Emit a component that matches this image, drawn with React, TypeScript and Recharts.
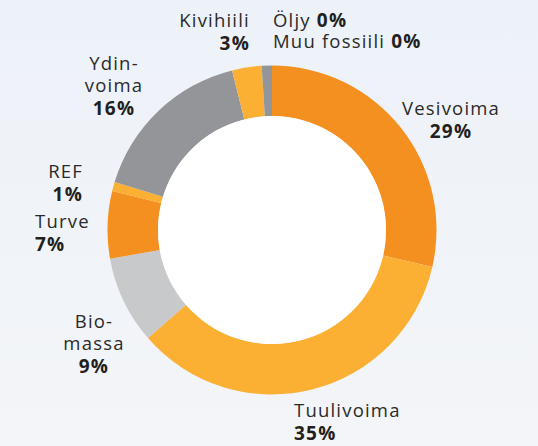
import { PieChart, Pie, Cell } from 'recharts';

const CATEGORIES = ['Vesivoima', 'Tuulivoima', 'Biomassa', 'Turve', 'REF', 'Ydinvoima', 'Kivihiili', 'Öljy', 'Muu fossiili'];
// slice sizes
const SHARES = [28.6, 35.0, 8.6, 6.6, 0.9, 16.4, 2.9, 0, 1.0];
const PERCENTS = ['29%', '35%', '9%', '7%', '1%', '16%', '3%', '0%', '0%'];
const NAME_LINES = [['Vesivoima'], ['Tuulivoima'], ['Bio-', 'massa'], ['Turve'], ['REF'], ['Ydin-', 'voima'], ['Kivihiili'], ['Öljy'], ['Muu fossiili']];

const DARK_ORANGE = '#f39020';
const LIGHT_ORANGE = '#fbb034';
const GRAY = '#939598';
const LIGHT_GRAY = '#c8c9cb';
const COLORS = [DARK_ORANGE, LIGHT_ORANGE, LIGHT_GRAY, DARK_ORANGE, LIGHT_ORANGE, GRAY, LIGHT_ORANGE, GRAY, GRAY];

const W = 538;
const H = 446;
const FONT = '"Open Sans", sans-serif';
const NAME_COLOR = '#2a2a2a';
const PCT_COLOR = '#231f20';

// where each label block sits: x, first baseline, anchor; inline = name and percent on one line
const LABEL_LAYOUT: { x: number; y: number; anchor: 'start' | 'middle' | 'end'; inline?: boolean }[] = [
  { x: 451, y: 115, anchor: 'middle' },
  { x: 294, y: 417, anchor: 'start' },
  { x: 94, y: 328, anchor: 'middle' },
  { x: 35, y: 228, anchor: 'start' },
  { x: 83, y: 178, anchor: 'end' },
  { x: 114, y: 70, anchor: 'middle' },
  { x: 250, y: 27, anchor: 'end' },
  { x: 273, y: 27, anchor: 'start', inline: true },
  { x: 273, y: 48, anchor: 'start', inline: true },
];

const data = CATEGORIES.map((name, i) => ({ name, value: SHARES[i] }));
const hole = [{ name: 'hole', value: 1 }];

function Labels() {
  const inlineIdx = CATEGORIES.map((_, i) => i).filter((i) => LABEL_LAYOUT[i].inline);
  return (
    <svg width={W} height={H} style={{ position: 'absolute', left: 0, top: 0, pointerEvents: 'none' }}>
      {CATEGORIES.map((name, i) => {
        const pos = LABEL_LAYOUT[i];
        if (pos.inline) return null;
        const lines = NAME_LINES[i];
        return (
          <text key={name} textAnchor={pos.anchor} fontFamily={FONT} fontSize={18.5} letterSpacing={1.2} fill={NAME_COLOR}>
            {lines.map((ln, j) => (
              <tspan key={j} x={pos.x} y={pos.y + j * 22}>{ln}</tspan>
            ))}
            <tspan x={pos.x} y={pos.y + lines.length * 22 + 1} fontWeight={700} fontSize={19} fill={PCT_COLOR}>
              {PERCENTS[i]}
            </tspan>
          </text>
        );
      })}
      {/* Öljy and Muu fossiili share one block, name and percent on the same line */}
      <text fontFamily={FONT} fontSize={18.5} letterSpacing={1.2} fill={NAME_COLOR}>
        {inlineIdx.map((i) => (
          <tspan key={i} x={LABEL_LAYOUT[i].x} y={LABEL_LAYOUT[i].y}>
            {NAME_LINES[i][0]}{' '}
            <tspan fontWeight={700} fontSize={19} fill={PCT_COLOR}>{PERCENTS[i]}</tspan>
          </tspan>
        ))}
      </text>
    </svg>
  );
}

export default function App() {
  return (
    <div
      style={{
        position: 'absolute',
        left: 0,
        top: 0,
        width: W,
        height: H,
        background: 'linear-gradient(180deg, #edf2f9 0%, #f3f5f8 100%)',
      }}
    >
      <PieChart width={W} height={H} margin={{ top: 0, right: 0, bottom: 0, left: 0 }}>
        <Pie
          data={data}
          dataKey="value"
          cx={272}
          cy={230}
          innerRadius={114}
          outerRadius={164.5}
          startAngle={90}
          endAngle={-270}
          stroke="none"
          isAnimationActive={false}
        >
          {data.map((entry, i) => (
            <Cell key={entry.name} fill={COLORS[i]} />
          ))}
        </Pie>
        <Pie
          data={hole}
          dataKey="value"
          cx={272}
          cy={230}
          outerRadius={114}
          stroke="none"
          fill="#ffffff"
          isAnimationActive={false}
        />
      </PieChart>
      <Labels />
    </div>
  );
}
